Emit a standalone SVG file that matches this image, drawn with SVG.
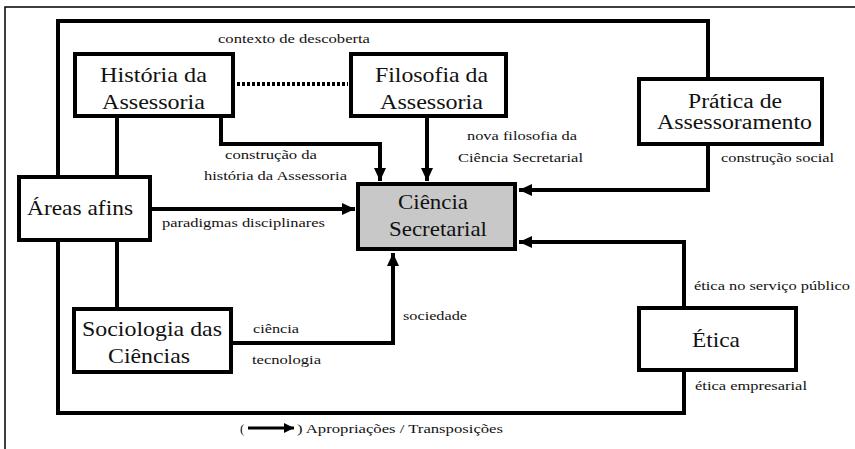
<svg xmlns="http://www.w3.org/2000/svg" width="855" height="449" viewBox="0 0 855 449">
  <style>
    .box { fill: #ffffff; stroke: #000000; stroke-width: 4; }
    .core { fill: #c8c8c8; }
    .t { font-size: 22px; fill: #111111; }
    .tight { font-size: 20px; }
    .lbl { font-size: 13px; fill: #111111; }
    .wire { fill: none; stroke: #000000; stroke-width: 4; stroke-linejoin: miter; stroke-linecap: square; }
    .arrow { marker-end: url(#head); stroke-linecap: butt; }
    .dots { fill: none; stroke: #000000; stroke-width: 4; stroke-dasharray: 3 2; }
    .frame { fill: none; stroke: #000000; stroke-width: 1.5; }
  </style>
  <defs>
    <marker id="head" viewBox="0 0 13 12" refX="13" refY="6" markerWidth="13" markerHeight="12" markerUnits="userSpaceOnUse" orient="auto">
      <path d="M0,0 L13,6 L0,12 Z" fill="#000000"/>
    </marker>
    <marker id="headSmall" viewBox="0 0 10 10" refX="10" refY="5" markerWidth="10" markerHeight="10" markerUnits="userSpaceOnUse" orient="auto">
      <path d="M0,0 L10,5 L0,10 Z" fill="#000000"/>
    </marker>
  </defs>

  <rect width="855" height="449" fill="#ffffff"/>
  <!-- outer frame: top and left edges only -->
  <path class="frame" d="M5,449 L5,7 L855,7"/>

  <!-- connectors -->
  <g id="connectors">
    <path class="wire" d="M58,175 L58,21 L708,21 L708,77"/>
    <path class="wire" d="M117,118 L117,175"/>
    <path class="wire arrow" d="M221,118 L221,144 L380,144 L380,181"/>
    <path class="dots" d="M237,84 L348,84"/>
    <path class="wire arrow" d="M427,118 L427,181"/>
    <path class="wire arrow" d="M708,146 L708,190 L519,190"/>
    <path class="wire arrow" d="M152,209 L355,209"/>
    <path class="wire" d="M117,242 L117,307"/>
    <path class="wire arrow" d="M233,343 L393,343 L393,253"/>
    <path class="wire" d="M58,242 L58,413 L684,413 L684,372"/>
    <path class="wire arrow" d="M684,306 L684,242 L519,242"/>
  </g>

  <g font-family="Liberation Serif, Times New Roman, serif">
  <!-- connector labels -->
  <g id="labels">
    <text class="lbl" x="218" y="43" textLength="152" lengthAdjust="spacingAndGlyphs">contexto de descoberta</text>
    <text class="lbl" x="225" y="159" textLength="92" lengthAdjust="spacingAndGlyphs">construção da</text>
    <text class="lbl" x="204" y="180" textLength="143" lengthAdjust="spacingAndGlyphs">história da Assessoria</text>
    <text class="lbl" x="467" y="140" textLength="110" lengthAdjust="spacingAndGlyphs">nova filosofia da</text>
    <text class="lbl" x="458" y="162" textLength="125" lengthAdjust="spacingAndGlyphs">Ciência Secretarial</text>
    <text class="lbl" x="721" y="162" textLength="113" lengthAdjust="spacingAndGlyphs">construção social</text>
    <text class="lbl" x="162" y="227" textLength="163" lengthAdjust="spacingAndGlyphs">paradigmas disciplinares</text>
    <text class="lbl" x="253" y="333" textLength="46" lengthAdjust="spacingAndGlyphs">ciência</text>
    <text class="lbl" x="252" y="364" textLength="69" lengthAdjust="spacingAndGlyphs">tecnologia</text>
    <text class="lbl" x="403" y="320" textLength="64" lengthAdjust="spacingAndGlyphs">sociedade</text>
    <text class="lbl" x="694" y="290" textLength="156" lengthAdjust="spacingAndGlyphs">ética no serviço público</text>
    <text class="lbl" x="695" y="390" textLength="112" lengthAdjust="spacingAndGlyphs">ética empresarial</text>
  </g>

  <!-- nodes -->
  <g id="historia">
    <rect class="box" x="75" y="54" width="158" height="62"/>
    <text class="t" x="100" y="82" textLength="107" lengthAdjust="spacingAndGlyphs">História da</text>
    <text class="t" x="102" y="109" textLength="103" lengthAdjust="spacingAndGlyphs">Assessoria</text>
  </g>
  <g id="filosofia">
    <rect class="box" x="351" y="54" width="155" height="62"/>
    <text class="t" x="375" y="82" textLength="113" lengthAdjust="spacingAndGlyphs">Filosofia da</text>
    <text class="t" x="380" y="109" textLength="103" lengthAdjust="spacingAndGlyphs">Assessoria</text>
  </g>
  <g id="pratica">
    <rect class="box" x="639" y="79" width="183" height="65"/>
    <text class="t tight" x="688" y="108" textLength="94" lengthAdjust="spacingAndGlyphs">Prática de</text>
    <text class="t tight" x="657" y="129" textLength="155" lengthAdjust="spacingAndGlyphs">Assessoramento</text>
  </g>
  <g id="areas">
    <rect class="box" x="19" y="177" width="131" height="63"/>
    <text class="t" x="27" y="215" textLength="106" lengthAdjust="spacingAndGlyphs">Áreas afins</text>
  </g>
  <g id="ciencia">
    <rect class="box core" x="358" y="184" width="157" height="65"/>
    <text class="t" x="398" y="209" textLength="70" lengthAdjust="spacingAndGlyphs">Ciência</text>
    <text class="t" x="389" y="236" textLength="98" lengthAdjust="spacingAndGlyphs">Secretarial</text>
  </g>
  <g id="sociologia">
    <rect class="box" x="74" y="309" width="157" height="63"/>
    <text class="t" x="82" y="336" textLength="140" lengthAdjust="spacingAndGlyphs">Sociologia das</text>
    <text class="t" x="108" y="363" textLength="82" lengthAdjust="spacingAndGlyphs">Ciências</text>
  </g>
  <g id="etica">
    <rect class="box" x="639" y="308" width="157" height="62"/>
    <text class="t" x="692" y="347" textLength="48" lengthAdjust="spacingAndGlyphs">Ética</text>
  </g>

  <!-- legend -->
  <g id="legend">
    <text class="lbl" x="240" y="433">(</text>
    <line x1="248" y1="428" x2="294" y2="428" stroke="#000000" stroke-width="3" marker-end="url(#headSmall)"/>
    <text class="lbl" x="297" y="433" textLength="206" lengthAdjust="spacingAndGlyphs">) Apropriações / Transposições</text>
  </g>
  </g>
</svg>
